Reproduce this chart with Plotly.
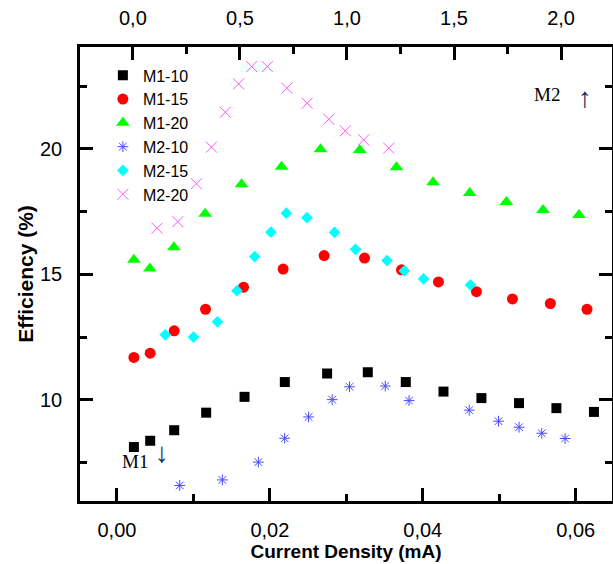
import plotly.graph_objects as go

# ---- data (M1 series on bottom axis: current density in mA) ----
m1_10_x = [0.00222, 0.00435, 0.00749, 0.01167, 0.01669, 0.02196, 0.02749, 0.03281, 0.03778, 0.04271, 0.04767, 0.05259, 0.05748, 0.06239]
m1_10_y = [8.12, 8.37, 8.79, 9.49, 10.12, 10.71, 11.05, 11.10, 10.71, 10.33, 10.07, 9.87, 9.67, 9.52]

m1_15_x = [0.00222, 0.00435, 0.00749, 0.01159, 0.01656, 0.02174, 0.02710, 0.03238, 0.03722, 0.04205, 0.04702, 0.05173, 0.05669, 0.06148]
m1_15_y = [11.69, 11.86, 12.75, 13.61, 14.49, 15.21, 15.75, 15.65, 15.18, 14.70, 14.31, 14.02, 13.84, 13.61]

m1_20_x = [0.00222, 0.00431, 0.00745, 0.01154, 0.01630, 0.02153, 0.02663, 0.03176, 0.03656, 0.04135, 0.04614, 0.05094, 0.05573, 0.06043]
m1_20_y = [15.58, 15.23, 16.08, 17.42, 18.59, 19.29, 19.99, 19.96, 19.27, 18.67, 18.24, 17.88, 17.57, 17.37]

# ---- data (M2 series on top axis) ----
m2_10_x = [0.219, 0.418, 0.586, 0.709, 0.821, 0.931, 1.012, 1.179, 1.290, 1.571, 1.708, 1.804, 1.910, 2.019]
m2_10_y = [6.59, 6.81, 7.52, 8.47, 9.32, 10.01, 10.52, 10.55, 9.97, 9.59, 9.15, 8.91, 8.67, 8.46]

m2_15_x = [0.151, 0.283, 0.395, 0.486, 0.569, 0.645, 0.717, 0.813, 0.942, 1.040, 1.187, 1.268, 1.358, 1.577]
m2_15_y = [12.59, 12.50, 13.11, 14.35, 15.71, 16.68, 17.44, 17.26, 16.67, 16.00, 15.55, 15.14, 14.82, 14.58]

m2_20_x = [0.113, 0.210, 0.297, 0.367, 0.432, 0.494, 0.555, 0.628, 0.719, 0.814, 0.915, 0.992, 1.078, 1.195]
m2_20_y = [16.84, 17.10, 18.61, 20.07, 21.46, 22.59, 23.28, 23.28, 22.42, 21.82, 21.18, 20.72, 20.36, 20.03]

FONT = "Arial, Liberation Sans, sans-serif"
SERIF = "Times New Roman, Liberation Serif, serif"

fig = go.Figure()
fig.add_trace(go.Scatter(x=m1_10_x, y=m1_10_y, mode="markers", name="M1-10",
                         marker=dict(symbol="square", size=10, color="black")))
fig.add_trace(go.Scatter(x=m1_15_x, y=m1_15_y, mode="markers", name="M1-15",
                         marker=dict(symbol="circle", size=11, color="red")))
fig.add_trace(go.Scatter(x=m1_20_x, y=m1_20_y, mode="markers", name="M1-20",
                         marker=dict(symbol="triangle-up", size=12, color="#00ff00")))
fig.add_trace(go.Scatter(x=m2_10_x, y=m2_10_y, mode="markers", name="M2-10", xaxis="x2",
                         marker=dict(symbol="asterisk-open", size=9, color="#4a4aff",
                                     line=dict(width=1, color="#4a4aff"))))
fig.add_trace(go.Scatter(x=m2_15_x, y=m2_15_y, mode="markers", name="M2-15", xaxis="x2",
                         marker=dict(symbol="diamond", size=9, color="#00ffff")))
fig.add_trace(go.Scatter(x=m2_20_x, y=m2_20_y, mode="markers", name="M2-20", xaxis="x2",
                         marker=dict(symbol="x-thin-open", size=11, color="#ff55ff",
                                     line=dict(width=1, color="#ff55ff"))))

axis_common = dict(showgrid=False, zeroline=False, showline=True, linecolor="black",
                   linewidth=2.5, ticks="inside", ticklen=13, tickwidth=2.5, tickcolor="black",
                   automargin=False,
                   tickfont=dict(family=FONT, size=20, color="black"))

fig.update_layout(
    width=613, height=564,
    margin=dict(l=80, r=1, t=47, b=63),
    paper_bgcolor="white", plot_bgcolor="white",
    separators=", ",
    showlegend=True,
    legend=dict(x=0.043, y=0.975, xanchor="left", yanchor="top",
                bgcolor="rgba(0,0,0,0)", font=dict(family=FONT, size=16, color="black"),
                tracegroupgap=0),
    xaxis=dict(range=[-0.00483, 0.06475], dtick=0.02, tick0=0, tickformat=".2f",
               minor=dict(ticks="inside", ticklen=7, dtick=0.01, tickwidth=2.5, tickcolor="black"),
               ticklabelstandoff=9,
               title=dict(text="<b>Current Density (mA)</b>", font=dict(family=FONT, size=19, color="black"),
                          standoff=3),
               **axis_common),
    xaxis2=dict(range=[-0.247, 2.238], dtick=0.5, tick0=0, tickformat=".1f",
                overlaying="x", side="top", anchor="y",
                minor=dict(ticks="inside", ticklen=7, dtick=0.25, tickwidth=2.5, tickcolor="black"),
                ticklabelstandoff=11,
                **axis_common),
    yaxis=dict(range=[5.97, 24.06], dtick=5, tick0=0, mirror="ticks",
               minor=dict(ticks="inside", ticklen=7, dtick=2.5, tickwidth=2.5, tickcolor="black"),
               ticklabelstandoff=11,
               title=dict(text="<b>Efficiency (%)</b>", font=dict(family=FONT, size=21, color="black"),
                          standoff=1),
               **axis_common),
)

fig.add_annotation(x=0.0752, y=0.0595, xref="paper", yref="paper", text="M1", showarrow=False,
                   font=dict(family=SERIF, size=19, color="black"))
fig.add_annotation(x=0.137, y=0.068, xref="paper", yref="paper", text="↓", showarrow=False,
                   font=dict(family=SERIF, size=28, color="#1a2a55"))
fig.add_annotation(x=0.906, y=0.923, xref="paper", yref="paper", text="M2", showarrow=False,
                   font=dict(family=SERIF, size=19, color="black"))
fig.add_annotation(x=0.966, y=0.927, xref="paper", yref="paper", text="↑", showarrow=False,
                   font=dict(family=SERIF, size=28, color="#1a2a55"))

fig.write_html("out.html", config={"displayModeBar": False},
               post_script="document.body.style.margin='0';document.body.style.padding='0';"
                           "document.body.style.overflow='hidden';")
